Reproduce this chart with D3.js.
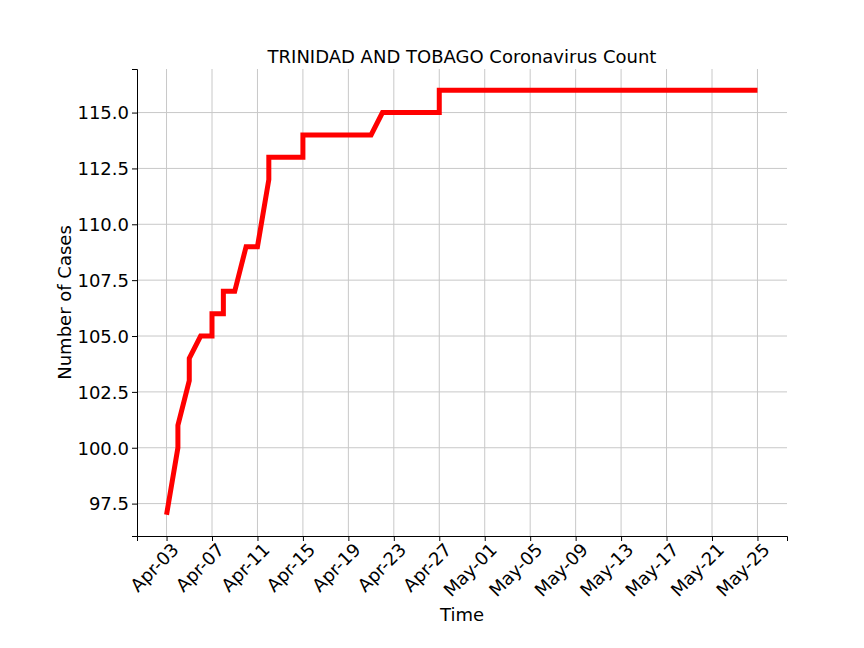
<!DOCTYPE html>
<html>
<head>
<meta charset="utf-8">
<script src="https://cdn.jsdelivr.net/npm/d3@7"></script>
<style>
  body { margin: 0; background: #fff; }
  text { font-family: "DejaVu Sans", sans-serif; fill: #000; }
</style>
</head>
<body>
<svg id="chart" width="864" height="648"></svg>
<script>
// points share a date where the count stepped up within the day
var dates = ["2020-04-03", "2020-04-04", "2020-04-04", "2020-04-05", "2020-04-05",
             "2020-04-06", "2020-04-07", "2020-04-07", "2020-04-08", "2020-04-08",
             "2020-04-09", "2020-04-10", "2020-04-11", "2020-04-12", "2020-04-12",
             "2020-04-15", "2020-04-15", "2020-04-21", "2020-04-22", "2020-04-27",
             "2020-04-27", "2020-05-25"];
var cases = [97, 100, 101, 103, 104,
             105, 105, 106, 106, 107,
             107, 109, 109, 112, 113,
             113, 114, 114, 115, 115,
             116, 116];
var yTicks = [97.5, 100, 102.5, 105, 107.5, 110, 112.5, 115];

(function () {
    "use strict";
    var parse = d3.timeParse("%Y-%m-%d");
    var points = dates.map(function (d, i) { return { t: parse(d), v: cases[i] }; });

    var svg = d3.select("#chart"),
        left = 137, right = 787, plotTop = 69, bottom = 536;

    var t0 = parse("2020-04-03"), t1 = parse("2020-05-25"),
        span = (t1 - t0) * 0.05;
    var x = d3.scaleTime()
        .domain([new Date(+t0 - span), new Date(+t1 + span)])
        .range([left, right]);
    var y = d3.scaleLinear().domain([96.05, 116.95]).range([bottom, plotTop]);

    var xTicks = d3.range(0, 53, 4).map(function (d) { return d3.timeDay.offset(t0, d); });

    // grid
    svg.append("g").selectAll("line").data(xTicks).join("line")
        .attr("x1", x).attr("x2", x).attr("y1", plotTop).attr("y2", bottom)
        .attr("stroke", "#c8c8c8").attr("stroke-width", 1);
    svg.append("g").selectAll("line").data(yTicks).join("line")
        .attr("x1", left).attr("x2", right).attr("y1", y).attr("y2", y)
        .attr("stroke", "#c8c8c8").attr("stroke-width", 1);

    // axes
    var xAxis = svg.append("g").attr("transform", "translate(0," + bottom + ")")
        .call(d3.axisBottom(x).tickValues(xTicks).tickFormat(d3.timeFormat("%b-%d")).tickSizeOuter(0).tickSize(5));
    xAxis.selectAll("text")
        .style("font-size", "18px")
        .attr("text-anchor", "end")
        .attr("dy", "0.7em")
        .attr("x", 0).attr("y", 0)
        .attr("transform", "translate(4,6) rotate(-45)");
    var yAxis = svg.append("g").attr("transform", "translate(" + left + ",0)")
        .call(d3.axisLeft(y).tickValues(yTicks).tickFormat(d3.format(".1f")).tickSizeOuter(0).tickSize(5));
    yAxis.selectAll("text").style("font-size", "18px").attr("dy", "0.35em");
    svg.selectAll(".domain").attr("stroke", "#000");
    svg.selectAll(".tick line").attr("stroke", "#000");

    // line
    svg.append("path").datum(points)
        .attr("fill", "none").attr("stroke", "#ff0000").attr("stroke-width", 5)
        .attr("d", d3.line().x(function (d) { return x(d.t); }).y(function (d) { return y(d.v); }));

    // labels
    svg.append("text").attr("x", (left + right) / 2).attr("y", 63).attr("text-anchor", "middle")
        .style("font-size", "18px").text("TRINIDAD AND TOBAGO Coronavirus Count");
    svg.append("text").attr("x", (left + right) / 2).attr("y", 621).attr("text-anchor", "middle")
        .style("font-size", "18px").text("Time");
    svg.append("text").attr("transform", "translate(71," + (plotTop + bottom) / 2 + ") rotate(-90)")
        .attr("text-anchor", "middle").style("font-size", "18px").text("Number of Cases");
}());
</script>
</body>
</html>
